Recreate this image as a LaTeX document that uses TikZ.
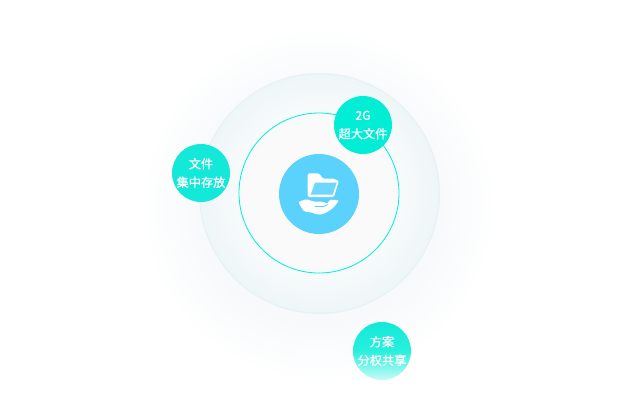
\documentclass[tikz,border=0pt]{standalone}
\usepackage{fontspec}
\setmainfont[FakeBold=1]{Noto Sans CJK SC}
\definecolor{glowin}{HTML}{F7F9FB}
\definecolor{discin}{HTML}{FAFAFB}
\definecolor{discmid}{HTML}{F7FAFB}
\definecolor{discout}{HTML}{EFF6F8}
\definecolor{discedge}{HTML}{E8F2F5}
\definecolor{tealc}{HTML}{02EDD6}
\definecolor{tealb}{HTML}{14E8D8}
\definecolor{skyc}{HTML}{5AD2FB}
\tikzset{
  badge/.style={circle,minimum size=58pt,inner sep=0pt,text=white,fill=tealc,font=\fontsize{12.2pt}{19.5pt}\selectfont,align=center},
  badgesoft/.style={badge,fill=none,top color=tealb,bottom color=tealc!22!white,middle color=tealc!85!white},
  hub/.style={circle,minimum size=80pt,inner sep=0pt,fill=skyc},
  ring/.style={circle,minimum size=160pt,inner sep=0pt,draw=tealc,line width=0.8pt}
}
\begin{document}
\begin{tikzpicture}[x=1pt,y=-1pt]
\useasboundingbox (0,0) rectangle (640,400);
\fill[white] (0,0) rectangle (640,400);
% soft halo
\foreach \r in {178,175,...,120}{
  \pgfmathsetmacro{\p}{100*(178-\r)/58}
  \fill[glowin!\p!white] (319,205) circle[radius=\r];
}
% disc
\fill[discedge] (319.5,193.5) circle[radius=120.5];
\foreach \r in {119,117,...,85}{
  \pgfmathsetmacro{\p}{100*(119-\r)/34}
  \fill[discmid!\p!discout] (319.5,193.5) circle[radius=\r];
}
\fill[discin] (319.5,193.5) circle[radius=75];
\node[ring] (orbit) at (319,193) {};
\node[hub] (core) at (319,194) {};
\node[badge] (big) at (363,125) {2G\\[-1pt]超大文件};
\node[badge,fill=tealb] (store) at (201,173) {文件\\[-1pt]集中存放};
\node[badgesoft] (share) at (382,351) {方案\\[-1pt]分权共享};
\begin{scope}[shift={(260,140)},x=0.3333pt,y=-0.3333pt]
  % folder
  \fill[white,rounded corners=1.5pt] (143,100) -- (178,100) -- (188,116) -- (226,116) -- (226,121) -- (237,121) -- (222,171) -- (143,171) -- cycle;
  \fill[skyc!88!white] (165,128) -- (230,128) -- (218,164) -- (152,164) -- cycle;
  % hand
  \fill[white,rounded corners=2pt] (114,186) -- (140,177) -- (160,185) -- (190,185) -- (204,192) -- (206,179) -- (238,180) -- (222,202) -- (196,220) -- (175,225) -- (150,216) -- (133,216) -- cycle;
  \draw[skyc,line width=0.8pt,line cap=round] (165,199) -- (190,200) -- (203,194);
\end{scope}
\end{tikzpicture}
\end{document}
